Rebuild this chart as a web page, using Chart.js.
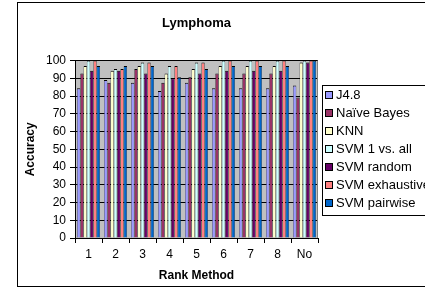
<!DOCTYPE html>
<html>
<head>
<meta charset="utf-8">
<script src="https://cdn.jsdelivr.net/npm/chart.js@4/dist/chart.umd.min.js"></script>
<style>
  html, body { margin: 0; padding: 0; background: #fff; }
  canvas { display: block; }
</style>
</head>
<body>
<canvas id="chart" width="425" height="295"></canvas>
<script>
// ========================================
// DATA
// ========================================
const chartTitle = 'Lymphoma';
const categories = ['1', '2', '3', '4', '5', '6', '7', '8', 'No'];
const yTicks = [0, 10, 20, 30, 40, 50, 60, 70, 80, 90, 100];

const j48         = [84.4, 89.0, 87.5, 82.8, 87.5, 84.4, 84.4, 84.4, 85.9];
const naiveBayes  = [92.7, 87.5, 95.3, 87.5, 90.6, 92.7, 92.7, 92.7, 79.2];
const knn         = [96.9, 94.3, 96.9, 92.7, 95.3, 96.9, 96.9, 96.9, 98.9];
const svmOneVsAll = [100, 95.3, 98.9, 96.9, 98.9, 100, 100, 100, 100];
const svmRandom   = [94.3, 94.3, 92.7, 90.1, 92.7, 94.3, 94.3, 94.3, 98.9];
const svmExhaust  = [100, 95.3, 98.9, 96.9, 98.9, 100, 100, 100, 100];
const svmPairwise = [96.9, 96.9, 96.9, 90.6, 95.3, 96.9, 96.9, 96.9, 100];

const seriesNames  = ['J4.8', 'Naïve Bayes', 'KNN', 'SVM 1 vs. all', 'SVM random', 'SVM exhaustive', 'SVM pairwise'];
const seriesValues = [j48, naiveBayes, knn, svmOneVsAll, svmRandom, svmExhaust, svmPairwise];
const seriesColors = ['#9999FF', '#993366', '#FFFFCC', '#CCFFFF', '#660066', '#FF8080', '#0066CC'];

const FONT = 'Arial, "Liberation Sans", sans-serif';

// ========================================
// PLUGINS - plot background, frame, legend
// ========================================
const excelLook = {
    id: 'excelLook',
    beforeDraw(chart) {
        const { ctx, chartArea: a } = chart;
        ctx.save();
        ctx.fillStyle = '#fff';
        ctx.fillRect(0, 0, chart.width, chart.height);
        ctx.fillStyle = '#C0C0C0';
        ctx.fillRect(a.left, a.top, a.right - a.left, a.bottom - a.top);
        // outer chart frame
        ctx.strokeStyle = '#000';
        ctx.lineWidth = 1;
        ctx.strokeRect(17.5, 2.5, 430, 284);
        ctx.restore();
    },
    afterDraw(chart) {
        const { ctx, chartArea: a } = chart;
        ctx.save();
        // plot area right edge
        ctx.strokeStyle = '#808080';
        ctx.beginPath();
        ctx.moveTo(Math.round(a.right) - 0.5, a.top);
        ctx.lineTo(Math.round(a.right) - 0.5, a.bottom);
        ctx.stroke();

        // legend box
        const lx = 322.5, ly = 85.5, rowH = 18;
        ctx.strokeStyle = '#000';
        ctx.fillStyle = '#fff';
        ctx.fillRect(lx, ly, 120, 130);
        ctx.strokeRect(lx, ly, 120, 130);
        ctx.font = '13px ' + FONT;
        ctx.textBaseline = 'middle';
        chart.data.datasets.forEach((ds, i) => {
            const cy = 95 + i * rowH;
            ctx.fillStyle = ds.backgroundColor;
            ctx.fillRect(325.5, cy - 3.5, 7, 7);
            ctx.strokeRect(325.5, cy - 3.5, 7, 7);
            ctx.fillStyle = '#000';
            ctx.fillText(ds.label, 336, cy + 0.5);
        });
        ctx.restore();
    }
};

// ========================================
// CHART
// ========================================
new Chart(document.getElementById('chart'), {
    type: 'bar',
    data: {
        labels: categories,
        datasets: seriesNames.map((name, i) => ({
            label: name,
            data: seriesValues[i],
            backgroundColor: seriesColors[i],
            borderColor: '#000',
            borderWidth: { top: 1, left: 0.5, right: 0.5, bottom: 0 },
            borderSkipped: false,
            categoryPercentage: 0.85,
            barPercentage: 1.0
        }))
    },
    options: {
        responsive: false,
        animation: false,
        layout: { padding: { left: 20, right: 107, top: 10, bottom: 10 } },
        plugins: {
            legend: { display: false },
            tooltip: { enabled: false },
            title: {
                display: true,
                text: chartTitle,
                fullSize: false,
                color: '#000',
                font: { family: FONT, size: 13, weight: 'bold' },
                padding: { top: 6, bottom: 29 }
            }
        },
        scales: {
            x: {
                grid: { drawOnChartArea: false, drawTicks: true, tickLength: 5, color: '#000', offset: true },
                border: { color: '#000', width: 1 },
                ticks: { color: '#000', font: { family: FONT, size: 12 }, padding: 4, maxRotation: 0 },
                title: {
                    display: true,
                    text: 'Rank Method',
                    color: '#000',
                    font: { family: FONT, size: 12, weight: 'bold' },
                    padding: { top: 0, bottom: 2 }
                },
                afterFit: s => { s.height = 47; }
            },
            y: {
                min: 0,
                max: 100,
                afterBuildTicks: s => { s.ticks = yTicks.map(v => ({ value: v })); },
                grid: { color: '#000', tickLength: 5 },
                border: { color: '#000', width: 1 },
                ticks: { color: '#000', font: { family: FONT, size: 12 }, padding: 4 },
                title: {
                    display: true,
                    text: 'Accuracy',
                    color: '#000',
                    font: { family: FONT, size: 12, weight: 'bold' },
                    padding: { top: 3, bottom: 0 }
                },
                afterFit: s => { s.width = 55; }
            }
        }
    },
    plugins: [excelLook]
});
</script>
</body>
</html>
